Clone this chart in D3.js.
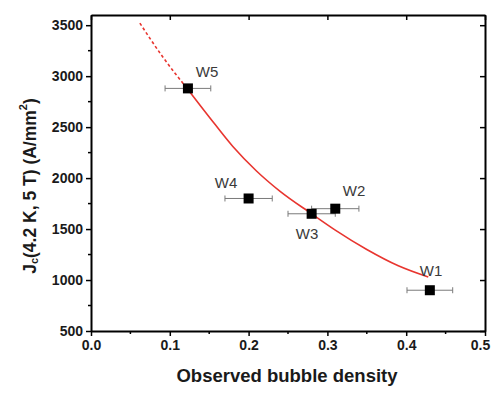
<!DOCTYPE html>
<html>
<head>
<meta charset="utf-8">
<script src="https://cdn.jsdelivr.net/npm/d3@7"></script>
<style>
  html, body { margin: 0; padding: 0; background: #fff; }
  svg { display: block; }
  .tick text { font-family: "Liberation Sans", Arial, sans-serif; font-weight: bold; }
</style>
</head>
<body>
<svg id="chart" width="493" height="401"></svg>
<script>
// Samples: bubble density vs. critical current density
const sampleNames = ["W1", "W2", "W3", "W4", "W5"];
const bubbleDensity = [0.43, 0.31, 0.28, 0.20, 0.123];
const densityError = [0.029, 0.03, 0.03, 0.03, 0.029];
const jcValues = [900, 1700, 1650, 1800, 2880];

// Fitted trend line (dashed where extrapolated above W5)
const fitX = [0.062, 0.09, 0.123, 0.15, 0.18, 0.21, 0.24, 0.28, 0.31, 0.35, 0.39, 0.428];
const fitY = [3520, 3200, 2870, 2600, 2310, 2070, 1870, 1650, 1490, 1300, 1140, 1030];
const fitSolidFrom = 0.123;

const xTicks = [0.0, 0.1, 0.2, 0.3, 0.4, 0.5];
const yTicks = [500, 1000, 1500, 2000, 2500, 3000, 3500];

// label offsets for each sample name
const labelPos = {
  W1: [431, 270], W2: [354, 190], W3: [307, 233], W4: [226, 182], W5: [207, 71]
};

(function draw() {
  const svg = d3.select("#chart");
  const mLeft = 91, mRight = 485, mTop = 15, mBottom = 331;

  const x = d3.scaleLinear().domain([0, 0.5]).range([mLeft, mRight]);
  const y = d3.scaleLinear().domain([500, 3600]).range([mBottom, mTop]);

  const font = '"Liberation Sans", Arial, sans-serif';

  // Bottom axis (outward ticks)
  const xAxis = d3.axisBottom(x).tickValues(xTicks).tickFormat(d3.format(".1f"))
    .tickSizeInner(5).tickSizeOuter(0).tickPadding(4);
  const gx = svg.append("g").attr("transform", `translate(0,${mBottom})`).call(xAxis);
  gx.selectAll("text").attr("font-size", 14).attr("fill", "#1a1a1a");
  // keep the last label inside the canvas edge
  gx.selectAll(".tick").filter(d => d === 0.5).select("text").attr("dx", -5);
  const xMinor = d3.range(0.05, 0.5, 0.1);
  gx.selectAll(".minor").data(xMinor).enter().append("line")
    .attr("x1", d => x(d)).attr("x2", d => x(d)).attr("y1", 0).attr("y2", 3)
    .attr("stroke", "#000").attr("stroke-width", 1.5);

  // Left axis (outward ticks)
  const yAxis = d3.axisLeft(y).tickValues(yTicks).tickFormat(d3.format("d"))
    .tickSizeInner(5).tickSizeOuter(0).tickPadding(3);
  const gy = svg.append("g").attr("transform", `translate(${mLeft},0)`).call(yAxis);
  gy.selectAll("text").attr("font-size", 14).attr("fill", "#1a1a1a");
  const yMinor = d3.range(750, 3600, 500);
  gy.selectAll(".minor").data(yMinor).enter().append("line")
    .attr("y1", d => y(d)).attr("y2", d => y(d)).attr("x1", 0).attr("x2", -3)
    .attr("stroke", "#000").attr("stroke-width", 1.5);

  [gx, gy].forEach(g => {
    g.select(".domain").attr("stroke-width", 2);
    g.selectAll(".tick line").attr("stroke-width", 1.5);
  });

  // Top axis (inward ticks, no labels)
  const gt = svg.append("g").attr("transform", `translate(0,${mTop})`)
    .call(d3.axisTop(x).tickValues(xTicks).tickSizeInner(-5).tickSizeOuter(0).tickFormat(""));
  gt.select(".domain").attr("stroke-width", 2);
  gt.selectAll(".tick line").attr("stroke-width", 1.5);

  // Right axis (inward ticks, no labels)
  const gr = svg.append("g").attr("transform", `translate(${mRight},0)`)
    .call(d3.axisRight(y).tickValues(yTicks).tickSizeInner(-5).tickSizeOuter(0).tickFormat(""));
  gr.select(".domain").attr("stroke-width", 2);
  gr.selectAll(".tick line").attr("stroke-width", 1.5);

  // Fit line
  const fitPts = fitX.map((v, i) => [v, fitY[i]]);
  const line = d3.line().x(d => x(d[0])).y(d => y(d[1])).curve(d3.curveMonotoneX);
  const dashedPts = fitPts.filter(d => d[0] <= fitSolidFrom);
  const solidPts = fitPts.filter(d => d[0] >= fitSolidFrom);
  svg.append("path").attr("d", line(dashedPts)).attr("fill", "none")
    .attr("stroke", "#e8352f").attr("stroke-width", 1.6).attr("stroke-dasharray", "3,2.5");
  svg.append("path").attr("d", line(solidPts)).attr("fill", "none")
    .attr("stroke", "#e8352f").attr("stroke-width", 1.6);

  // Data points with horizontal error bars
  const pts = sampleNames.map((n, i) => ({
    name: n, x: bubbleDensity[i], err: densityError[i], y: jcValues[i]
  }));
  const eb = svg.append("g").attr("stroke", "#7a7a7a").attr("stroke-width", 1);
  pts.forEach(p => {
    eb.append("line").attr("x1", x(p.x - p.err)).attr("x2", x(p.x + p.err))
      .attr("y1", y(p.y)).attr("y2", y(p.y));
    [p.x - p.err, p.x + p.err].forEach(v => {
      eb.append("line").attr("x1", x(v)).attr("x2", x(v))
        .attr("y1", y(p.y) - 3).attr("y2", y(p.y) + 3);
    });
  });
  svg.append("g").selectAll("rect").data(pts).enter().append("rect")
    .attr("x", d => x(d.x) - 5).attr("y", d => y(d.y) - 5)
    .attr("width", 10).attr("height", 10).attr("fill", "#000");

  // Sample labels
  svg.append("g").selectAll("text").data(pts).enter().append("text")
    .attr("x", d => labelPos[d.name][0]).attr("y", d => labelPos[d.name][1])
    .attr("text-anchor", "middle").attr("dominant-baseline", "central")
    .attr("font-family", font).attr("font-size", 15).attr("fill", "#3a3a3a")
    .text(d => d.name);

  // Axis titles
  svg.append("text").attr("x", 287).attr("y", 375)
    .attr("text-anchor", "middle").attr("dominant-baseline", "central")
    .attr("font-family", font).attr("font-weight", "bold").attr("font-size", 18.5)
    .attr("fill", "#1a1a1a").text("Observed bubble density");

  const yt = svg.append("text").attr("transform", "translate(30,186) rotate(-90)")
    .attr("text-anchor", "middle").attr("dominant-baseline", "central")
    .attr("font-family", font).attr("font-weight", "bold").attr("font-size", 17.5)
    .attr("fill", "#1a1a1a");
  yt.append("tspan").text("J");
  yt.append("tspan").attr("font-size", 11).attr("dy", 4).text("c");
  yt.append("tspan").attr("dy", -4).text("(4.2 K, 5 T) (A/mm");
  yt.append("tspan").attr("font-size", 11).attr("dy", -7).text("2");
  yt.append("tspan").attr("dy", 7).text(")");
})();
</script>
</body>
</html>
